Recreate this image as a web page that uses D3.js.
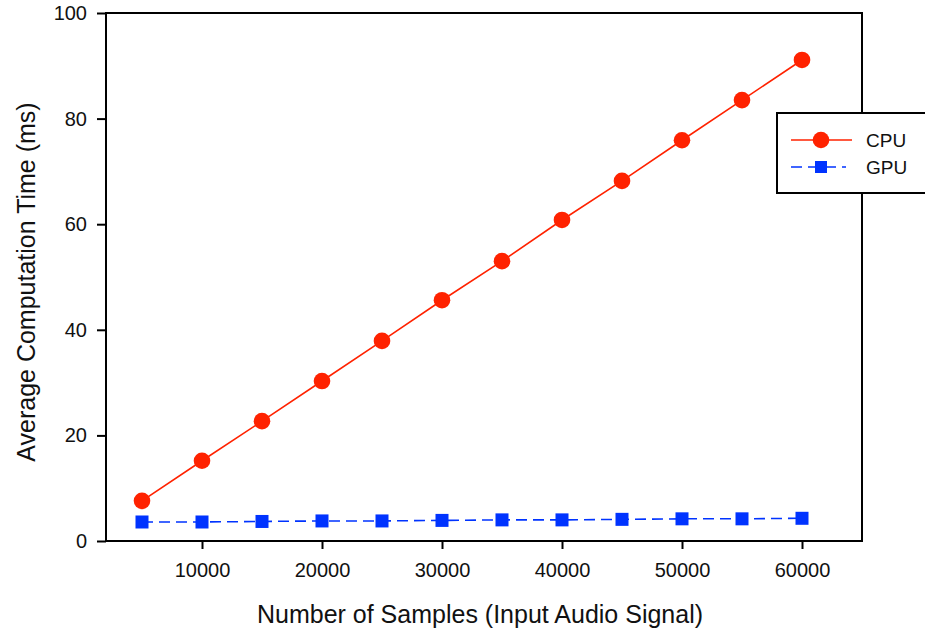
<!DOCTYPE html>
<html>
<head>
<meta charset="utf-8">
<script src="https://cdn.jsdelivr.net/npm/d3@7"></script>
<style>
  body { margin: 0; background: #fff; }
  svg { display: block; font-family: "Liberation Sans", Arial, sans-serif; }
</style>
</head>
<body>
<svg id="chart" width="925" height="632"></svg>
<script>
// data
const samples = [5000, 10000, 15000, 20000, 25000, 30000, 35000, 40000, 45000, 50000, 55000, 60000];
const cpuTimes = [7.6, 15.2, 22.7, 30.3, 37.9, 45.6, 53.0, 60.8, 68.2, 75.9, 83.5, 91.1];
const gpuTimes = [3.6, 3.6, 3.7, 3.8, 3.8, 3.9, 4.0, 4.0, 4.1, 4.2, 4.2, 4.3];
const xTicks = [10000, 20000, 30000, 40000, 50000, 60000];
const yTicks = [0, 20, 40, 60, 80, 100];

const svg = d3.select("#chart");
const m = { left: 106, top: 13, right: 862, bottom: 541 };

const x = d3.scaleLinear().domain([2000, 65000]).range([m.left, m.right]);
const y = d3.scaleLinear().domain([0, 100]).range([m.bottom, m.top]);

const red = "#ff2200";
const blue = "#0033ff";

// axes
svg.append("g")
  .attr("transform", `translate(0,${m.bottom})`)
  .call(d3.axisBottom(x).tickValues(xTicks).tickFormat(d3.format("d"))
    .tickSize(8).tickSizeOuter(0).tickPadding(14))
  .call(g => g.select(".domain").remove())
  .call(g => g.selectAll("line").attr("stroke-width", 2))
  .call(g => g.selectAll("text").style("font-size", "20px").attr("fill", "#111"));

svg.append("g")
  .attr("transform", `translate(${m.left},0)`)
  .call(d3.axisLeft(y).tickValues(yTicks).tickSize(9).tickSizeOuter(0).tickPadding(10))
  .call(g => g.select(".domain").remove())
  .call(g => g.selectAll("line").attr("stroke-width", 2))
  .call(g => g.selectAll("text").style("font-size", "20px").attr("fill", "#111"));

// frame
svg.append("rect")
  .attr("x", m.left).attr("y", m.top)
  .attr("width", m.right - m.left).attr("height", m.bottom - m.top)
  .attr("fill", "none").attr("stroke", "#000").attr("stroke-width", 2);

// axis titles
svg.append("text")
  .attr("x", 480).attr("y", 623)
  .attr("text-anchor", "middle").style("font-size", "25px").attr("fill", "#111")
  .text("Number of Samples (Input Audio Signal)");

svg.append("text")
  .attr("transform", `translate(35,282) rotate(-90)`)
  .attr("text-anchor", "middle").style("font-size", "25px").attr("fill", "#111")
  .text("Average Computation Time (ms)");

const line = d3.line().x(d => x(d[0])).y(d => y(d[1]));
const cpu = samples.map((s, i) => [s, cpuTimes[i]]);
const gpu = samples.map((s, i) => [s, gpuTimes[i]]);

// GPU series
svg.append("path").datum(gpu)
  .attr("d", line).attr("fill", "none")
  .attr("stroke", blue).attr("stroke-width", 1.6)
  .attr("stroke-dasharray", "11,6");
svg.selectAll("rect.gpu").data(gpu).join("rect")
  .attr("class", "gpu")
  .attr("x", d => x(d[0]) - 6.5).attr("y", d => y(d[1]) - 6.5)
  .attr("width", 13).attr("height", 13).attr("fill", blue);

// CPU series
svg.append("path").datum(cpu)
  .attr("d", line).attr("fill", "none")
  .attr("stroke", red).attr("stroke-width", 1.6);
svg.selectAll("circle.cpu").data(cpu).join("circle")
  .attr("class", "cpu")
  .attr("cx", d => x(d[0])).attr("cy", d => y(d[1]))
  .attr("r", 8.3).attr("fill", red);

// legend
const lg = svg.append("g");
lg.append("rect")
  .attr("x", 777).attr("y", 113).attr("width", 160).attr("height", 80)
  .attr("fill", "#fff").attr("stroke", "#000").attr("stroke-width", 2);
lg.append("line").attr("x1", 791).attr("x2", 852).attr("y1", 140).attr("y2", 140)
  .attr("stroke", red).attr("stroke-width", 1.6);
lg.append("circle").attr("cx", 821).attr("cy", 140).attr("r", 8.3).attr("fill", red);
lg.append("line").attr("x1", 791).attr("x2", 846).attr("y1", 167).attr("y2", 167)
  .attr("stroke", blue).attr("stroke-width", 1.6).attr("stroke-dasharray", "11,6");
lg.append("rect").attr("x", 815).attr("y", 161).attr("width", 12).attr("height", 12).attr("fill", blue);
lg.append("text").attr("x", 866).attr("y", 147).style("font-size", "19px").attr("fill", "#111").text("CPU");
lg.append("text").attr("x", 866).attr("y", 174).style("font-size", "19px").attr("fill", "#111").text("GPU");
</script>
</body>
</html>
